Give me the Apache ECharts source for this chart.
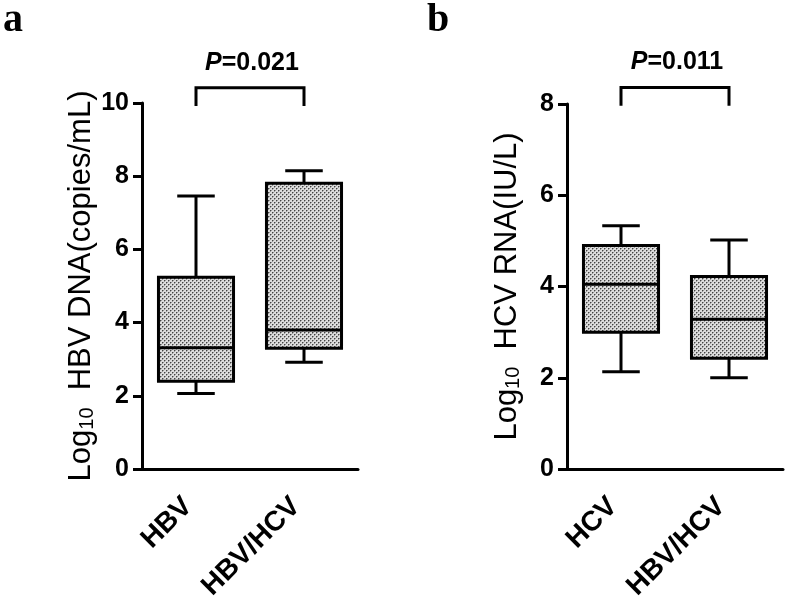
<!DOCTYPE html>
<html><head><meta charset="utf-8">
<script src="https://cdn.jsdelivr.net/npm/echarts@6/dist/echarts.min.js"></script>
<style>html,body{margin:0;padding:0;background:#fff}#c{width:787px;height:600px}</style>
</head><body><div id="c"></div>
<script>
// ---- data ----
const catsA = ['HBV', 'HBV/HCV'];
const catsB = ['HCV', 'HBV/HCV'];
// [min, Q1, median, Q3, max]
const boxA_HBV    = [2.06, 2.40, 3.31, 5.24, 7.46];
const boxA_HBVHCV = [2.92, 3.30, 3.80, 7.81, 8.15];
const boxB_HCV    = [2.13, 3.00, 4.05, 4.90, 5.33];
const boxB_HBVHCV = [2.00, 2.43, 3.28, 4.22, 5.02];
const yMaxA = 10, yMaxB = 8, yStep = 2;
const pTextA = '=0.021';
const pTextB = '=0.011';
// bracket: [top value, leg end value]
const bracketA = [10.42, 9.92];
const bracketB = [8.36, 7.96];
const yNameA = '  HBV DNA(copies/mL)';
const yNameB = '  HCV RNA(IU/L)';

// ---- pattern fill ----
const pc = document.createElement('canvas');
pc.width = 4; pc.height = 4;
const g = pc.getContext('2d');
g.fillStyle = '#dcdcdc'; g.fillRect(0, 0, 4, 4);
g.fillStyle = '#444444'; g.fillRect(0, 0, 1, 1); g.fillRect(2, 2, 1, 1);
g.fillStyle = '#989898'; g.fillRect(1, 0, 1, 1); g.fillRect(0, 1, 1, 1); g.fillRect(3, 2, 1, 1); g.fillRect(2, 3, 1, 1);
const pattern = { image: pc, repeat: 'repeat' };

const FONT = '"Liberation Sans", Arial, sans-serif';
const LS = { stroke: '#000', lineWidth: 3 };

function boxRender(params, api) {
  const c = api.value(0);
  const pts = [1, 2, 3, 4, 5].map(i => api.coord([c, api.value(i)]));
  const x = pts[0][0];
  const bw = api.size([1, 0])[0] * 0.695;
  const cap = bw / 4;
  return { type: 'group', children: [
    { type: 'line', shape: { x1: x, y1: pts[0][1], x2: x, y2: pts[1][1] }, style: LS },
    { type: 'line', shape: { x1: x, y1: pts[3][1], x2: x, y2: pts[4][1] }, style: LS },
    { type: 'line', shape: { x1: x - cap, y1: pts[0][1], x2: x + cap, y2: pts[0][1] }, style: LS },
    { type: 'line', shape: { x1: x - cap, y1: pts[4][1], x2: x + cap, y2: pts[4][1] }, style: LS },
    { type: 'rect', shape: { x: x - bw / 2, y: pts[3][1], width: bw, height: pts[1][1] - pts[3][1] },
      style: { fill: pattern, stroke: '#000', lineWidth: 3 } },
    { type: 'line', shape: { x1: x - bw / 2, y1: pts[2][1], x2: x + bw / 2, y2: pts[2][1] }, style: LS }
  ]};
}

function bracketRender(ptext) {
  return function (params, api) {
    const c0 = api.value(0), c1 = api.value(1), top = api.value(2), leg = api.value(3);
    const a = api.coord([c0, leg]), b = api.coord([c0, top]), d = api.coord([c1, top]), e = api.coord([c1, leg]);
    return { type: 'group', children: [
      { type: 'polyline', shape: { points: [a, b, d, e] }, style: { stroke: '#000', lineWidth: 3, fill: null } },
      { type: 'text', x: (b[0] + d[0]) / 2 + 2, y: b[1] - 25,
        style: { text: '{i|P}{n|' + ptext + '}', align: 'center', verticalAlign: 'middle',
          rich: {
            i: { fontStyle: 'italic', fontWeight: 'bold', fontSize: 25, fontFamily: FONT, fill: '#000' },
            n: { fontWeight: 'bold', fontSize: 25, fontFamily: FONT, fill: '#000' }
          } } }
    ]};
  };
}

// category labels, rotated 45°, anchored at the tick via the axis scale
function labelRender(cats) {
  return function (params, api) {
    const p = api.coord([api.value(0), 0]);
    return { type: 'text', x: p[0] - 8, y: p[1] + 33, rotation: Math.PI / 4,
      style: { text: cats[params.dataIndex], align: 'right', verticalAlign: 'middle',
        font: 'bold 28px ' + FONT, fill: '#000' } };
  };
}

function xAxisCfg(idx, cats) {
  return {
    type: 'category', gridIndex: idx, data: cats,
    axisLine: { lineStyle: { color: '#000', width: 3 } },
    axisTick: { alignWithLabel: true, length: 10, lineStyle: { color: '#000', width: 3 } },
    axisLabel: { show: false },
    splitLine: { show: false }
  };
}
function yAxisCfg(idx, max, nm) {
  return {
    type: 'value', gridIndex: idx, min: 0, max: max, interval: yStep,
    name: '{n|Log}{s|10}{n|' + nm + '}', nameLocation: 'middle', nameGap: 44, nameRotate: 90,
    nameTextStyle: { rich: {
      n: { fontSize: 31, fontFamily: FONT, color: '#000' },
      s: { fontSize: 20, fontFamily: FONT, color: '#000', verticalAlign: 'bottom' }
    } },
    axisLine: { show: true, lineStyle: { color: '#000', width: 3 } },
    axisTick: { show: true, length: 9, lineStyle: { color: '#000', width: 3 } },
    axisLabel: { margin: 13, color: '#000', fontSize: 25, fontWeight: 'bold', fontFamily: FONT },
    splitLine: { show: false }
  };
}

const chart = echarts.init(document.getElementById('c'), null, { renderer: 'canvas' });
chart.setOption({
  animation: false,
  backgroundColor: '#fff',
  grid: [
    { left: 142, top: 103, width: 216, height: 366, outerBoundsMode: 'none', containLabel: false },
    { left: 567, top: 104, width: 216, height: 365, outerBoundsMode: 'none', containLabel: false }
  ],
  xAxis: [xAxisCfg(0, catsA), xAxisCfg(1, catsB)],
  yAxis: [yAxisCfg(0, yMaxA, yNameA), yAxisCfg(1, yMaxB, yNameB)],
  graphic: [
    { type: 'text', x: 3, y: 41, style: { text: 'a', font: 'bold 40px "Liberation Serif", "Times New Roman", serif', fill: '#000', verticalAlign: 'bottom' } },
    { type: 'text', x: 427, y: 41, style: { text: 'b', font: 'bold 40px "Liberation Serif", "Times New Roman", serif', fill: '#000', verticalAlign: 'bottom' } }
  ],
  series: [
    { type: 'custom', xAxisIndex: 0, yAxisIndex: 0, renderItem: boxRender,
      encode: { x: 0, y: [1, 2, 3, 4, 5] },
      data: [[0].concat(boxA_HBV), [1].concat(boxA_HBVHCV)] },
    { type: 'custom', xAxisIndex: 1, yAxisIndex: 1, renderItem: boxRender,
      encode: { x: 0, y: [1, 2, 3, 4, 5] },
      data: [[0].concat(boxB_HCV), [1].concat(boxB_HBVHCV)] },
    { type: 'custom', xAxisIndex: 0, yAxisIndex: 0, renderItem: bracketRender(pTextA), clip: false,
      encode: { x: [0, 1], y: [2, 3] }, data: [[0, 1].concat(bracketA)] },
    { type: 'custom', xAxisIndex: 1, yAxisIndex: 1, renderItem: bracketRender(pTextB), clip: false,
      encode: { x: [0, 1], y: [2, 3] }, data: [[0, 1].concat(bracketB)] },
    { type: 'custom', xAxisIndex: 0, yAxisIndex: 0, renderItem: labelRender(catsA), clip: false,
      encode: { x: 0, y: 1 }, data: catsA.map((c, i) => [i, 0]) },
    { type: 'custom', xAxisIndex: 1, yAxisIndex: 1, renderItem: labelRender(catsB), clip: false,
      encode: { x: 0, y: 1 }, data: catsB.map((c, i) => [i, 0]) }
  ]
});
</script>
</body></html>
